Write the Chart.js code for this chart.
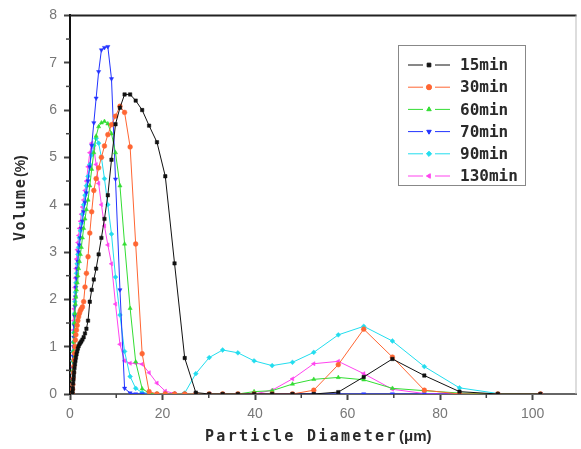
<!DOCTYPE html>
<html>
<head>
<meta charset="utf-8">
<script src="https://cdn.jsdelivr.net/npm/chart.js@4.4.1/dist/chart.umd.min.js"></script>
<style>
  html, body { margin: 0; padding: 0; background: #fff; }
</style>
</head>
<body>
<canvas id="psd" width="581" height="449"></canvas>
<script>
// particle size bins (µm), shared by every series
const diameters = [
  0.51, 0.56, 0.61, 0.67, 0.74, 0.81, 0.89, 0.97, 1.07, 1.17,
  1.28, 1.41, 1.55, 1.70, 1.86, 2.04, 2.24, 2.45, 2.69, 2.95,
  3.24, 3.55, 3.90, 4.28, 4.69, 5.15, 5.65, 6.19, 6.79, 7.45,
  8.18, 8.97, 9.84, 10.8, 11.8, 13.0, 14.2, 15.6, 17.1, 18.8,
  20.6, 22.6, 24.8, 27.2, 30.1, 33.0, 36.3, 39.8, 43.7, 48.1,
  52.7, 58.0, 63.5, 69.7, 76.6, 84.2, 92.5, 101.7
];

// volume % per bin
const vol15 = [
  0, 0.05, 0.12, 0.22, 0.30, 0.38, 0.46, 0.55, 0.63, 0.70,
  0.77, 0.84, 0.90, 0.96, 1.01, 1.05, 1.08, 1.11, 1.15, 1.20,
  1.28, 1.38, 1.55, 1.95, 2.20, 2.42, 2.65, 2.95, 3.30, 3.70,
  4.20, 4.95, 5.70, 6.05, 6.33, 6.33, 6.20, 6.00, 5.67, 5.32,
  4.60, 2.76, 0.76, 0.03, 0, 0, 0, 0, 0, 0,
  0, 0.04, 0.36, 0.74, 0.39, 0.05, 0, 0
];
const vol30 = [
  0, 0.10, 0.20, 0.32, 0.45, 0.58, 0.72, 0.86, 1.00, 1.14,
  1.25, 1.35, 1.45, 1.55, 1.63, 1.70, 1.76, 1.80, 1.84, 1.95,
  2.26, 2.55, 2.90, 3.40, 3.85, 4.30, 4.55, 4.78, 5.00, 5.24,
  5.48, 5.69, 5.87, 6.08, 5.95, 5.22, 3.17, 0.85, 0.05, 0,
  0, 0, 0, 0, 0, 0, 0, 0, 0, 0,
  0.08, 0.62, 1.37, 0.78, 0.08, 0, 0, 0
];
const vol60 = [
  0.10, 0.30, 0.50, 0.70, 0.90, 1.10, 1.30, 1.50, 1.70, 1.90,
  2.05, 2.20, 2.35, 2.50, 2.65, 2.80, 2.95, 3.10, 3.30, 3.50,
  3.70, 3.90, 4.10, 4.40, 4.75, 5.10, 5.45, 5.65, 5.73, 5.76,
  5.71, 5.50, 5.10, 4.40, 3.17, 1.81, 0.68, 0.11, 0.02, 0,
  0, 0, 0, 0, 0, 0, 0, 0.05, 0.07, 0.21,
  0.31, 0.35, 0.30, 0.12, 0.07, 0.02, 0, 0
];
const vol70 = [
  0.10, 0.30, 0.55, 0.80, 1.00, 1.20, 1.45, 1.65, 1.85, 2.05,
  2.25, 2.45, 2.65, 2.80, 3.00, 3.15, 3.30, 3.50, 3.65, 3.85,
  4.05, 4.25, 4.50, 4.80, 5.25, 5.73, 6.25, 6.81, 7.27, 7.32,
  7.34, 6.66, 4.54, 2.20, 0.12, 0.02, 0, 0, 0, 0,
  0, 0, 0, 0, 0, 0, 0, 0, 0, 0,
  0, 0, 0, 0, 0, 0, 0, 0
];
const vol90 = [
  0.20, 0.45, 0.70, 0.90, 1.10, 1.30, 1.50, 1.70, 1.95, 2.15,
  2.35, 2.55, 2.75, 2.95, 3.10, 3.30, 3.45, 3.60, 3.80, 4.00,
  4.20, 4.40, 4.60, 4.85, 5.05, 5.25, 5.40, 5.30, 5.00, 4.55,
  4.00, 3.38, 2.47, 1.67, 0.90, 0.37, 0.12, 0.03, 0.01, 0,
  0, 0, 0.02, 0.43, 0.77, 0.93, 0.87, 0.70, 0.60, 0.67,
  0.88, 1.25, 1.43, 1.12, 0.58, 0.13, 0.01, 0
];
const vol130 = [
  0.45, 0.70, 0.90, 1.10, 1.35, 1.55, 1.80, 2.00, 2.25, 2.45,
  2.65, 2.85, 3.05, 3.20, 3.35, 3.50, 3.65, 3.80, 3.95, 4.10,
  4.30, 4.50, 4.80, 5.10, 5.30, 5.20, 4.85, 4.45, 4.00, 3.55,
  3.15, 2.75, 1.90, 1.05, 0.70, 0.65, 0.65, 0.63, 0.45, 0.23,
  0.06, 0.01, 0, 0, 0, 0, 0, 0, 0.08, 0.32,
  0.64, 0.69, 0.43, 0.10, 0.01, 0, 0, 0
];

const seriesNames = ['15min', '30min', '60min', '70min', '90min', '130min'];
const xTicks = [0, 20, 40, 60, 80, 100];
const xMinor = [10, 30, 50, 70, 90];
const yTicks = [0, 1, 2, 3, 4, 5, 6, 7, 8];
const yMinor = [0.5, 1.5, 2.5, 3.5, 4.5, 5.5, 6.5, 7.5];

// styling per series
const looks = [
  { color: '#111111', style: 'rect', rot: 0 },
  { color: '#ff6633', style: 'circle', rot: 0 },
  { color: '#33dd33', style: 'triangle', rot: 0 },
  { color: '#2233ff', style: 'triangle', rot: 180 },
  { color: '#22ddee', style: 'rectRot', rot: 0 },
  { color: '#ff44ee', style: 'triangle', rot: -90 }
];

const allVols = [vol15, vol30, vol60, vol70, vol90, vol130];

const datasets = allVols.map((vals, k) => ({
  label: seriesNames[k],
  data: diameters.map((d, i) => ({ x: d, y: vals[i] })),
  showLine: true,
  borderColor: looks[k].color,
  backgroundColor: looks[k].color,
  borderWidth: 1,
  pointStyle: looks[k].style,
  rotation: looks[k].rot,
  pointRadius: 2.4,
  pointBorderWidth: 0.5
}));

// frame, minor ticks, legend box and axis titles
const decor = {
  id: 'decor',
  afterDraw(chart) {
    const ctx = chart.ctx;
    const a = chart.chartArea;
    const sx = chart.scales.x, sy = chart.scales.y;
    ctx.save();

    // top + right frame
    ctx.strokeStyle = '#222';
    ctx.lineWidth = 2;
    ctx.beginPath();
    ctx.moveTo(a.left, a.top);
    ctx.lineTo(a.right, a.top);
    ctx.stroke();
    ctx.strokeStyle = '#bbb';
    ctx.lineWidth = 1;
    ctx.beginPath();
    ctx.moveTo(a.right - 0.5, a.top);
    ctx.lineTo(a.right - 0.5, a.bottom);
    ctx.stroke();

    // minor ticks
    ctx.strokeStyle = '#444';
    ctx.lineWidth = 1.5;
    yMinor.forEach(v => {
      const p = sy.getPixelForValue(v);
      ctx.beginPath();
      ctx.moveTo(a.left - 4, p);
      ctx.lineTo(a.left, p);
      ctx.stroke();
    });
    xMinor.forEach(v => {
      const p = sx.getPixelForValue(v);
      ctx.beginPath();
      ctx.moveTo(p, a.bottom);
      ctx.lineTo(p, a.bottom + 4);
      ctx.stroke();
    });

    // legend
    const bx = 398, by = 45, bw = 127, bh = 140;
    ctx.strokeStyle = '#888';
    ctx.lineWidth = 1;
    ctx.strokeRect(bx + 0.5, by + 0.5, bw, bh);
    ctx.font = 'bold 16px "DejaVu Sans Mono"';
    ctx.textBaseline = 'middle';
    ctx.textAlign = 'left';
    seriesNames.forEach((name, k) => {
      const yy = 65 + k * 22.2;
      ctx.strokeStyle = looks[k].color;
      ctx.lineWidth = 1;
      ctx.beginPath();
      ctx.moveTo(408, yy); ctx.lineTo(423, yy);
      ctx.moveTo(435, yy); ctx.lineTo(450, yy);
      ctx.stroke();
      ctx.fillStyle = looks[k].color;
      Chart.helpers.drawPoint(ctx, { pointStyle: looks[k].style, rotation: looks[k].rot, radius: 2.6, borderWidth: 0.5 }, 429, yy);
      ctx.fillStyle = '#2a2a2a';
      ctx.fillText(name, 460, yy + 1);
    });

    // axis titles
    ctx.fillStyle = '#2a2a2a';
    ctx.font = 'bold 15px "DejaVu Sans Mono"';
    ctx.letterSpacing = '2.3px';
    ctx.fillText('Particle Diameter', 205, 437);
    ctx.letterSpacing = '0px';
    ctx.font = 'bold 15px "Liberation Sans"';
    ctx.fillText('(\u03bcm)', 399, 437);

    ctx.translate(21, 241);
    ctx.rotate(-Math.PI / 2);
    ctx.font = 'bold 15px "DejaVu Sans Mono"';
    ctx.letterSpacing = '1.5px';
    ctx.fillText('Volume', 0, 0);
    ctx.letterSpacing = '0px';
    ctx.font = 'bold 14px "Liberation Sans"';
    ctx.fillText('(%)', 64, 0);

    ctx.restore();
  }
};

new Chart(document.getElementById('psd').getContext('2d'), {
  type: 'scatter',
  data: { datasets },
  options: {
    responsive: false,
    animation: false,
    layout: { padding: { top: 13, right: 2, left: 0, bottom: 0 } },
    plugins: { legend: { display: false }, tooltip: { enabled: false } },
    scales: {
      x: {
        type: 'linear',
        min: 0,
        max: 109.5,
        afterBuildTicks: s => { s.ticks = xTicks.map(v => ({ value: v })); },
        afterFit: s => { s.height = 55; },
        grid: { drawOnChartArea: false, tickLength: 6, tickColor: '#444', tickWidth: 2 },
        border: { color: '#666', width: 2 },
        ticks: { color: '#777', font: { family: 'Liberation Sans', size: 14 }, padding: 6, maxRotation: 0 }
      },
      y: {
        type: 'linear',
        min: 0,
        max: 8,
        afterBuildTicks: s => { s.ticks = yTicks.map(v => ({ value: v })); },
        afterFit: s => { s.width = 70; },
        grid: { drawOnChartArea: false, tickLength: 6, tickColor: '#444', tickWidth: 2 },
        border: { color: '#111', width: 2 },
        ticks: { color: '#777', font: { family: 'Liberation Sans', size: 14 }, padding: 7 }
      }
    }
  },
  plugins: [decor]
});
</script>
</body>
</html>
